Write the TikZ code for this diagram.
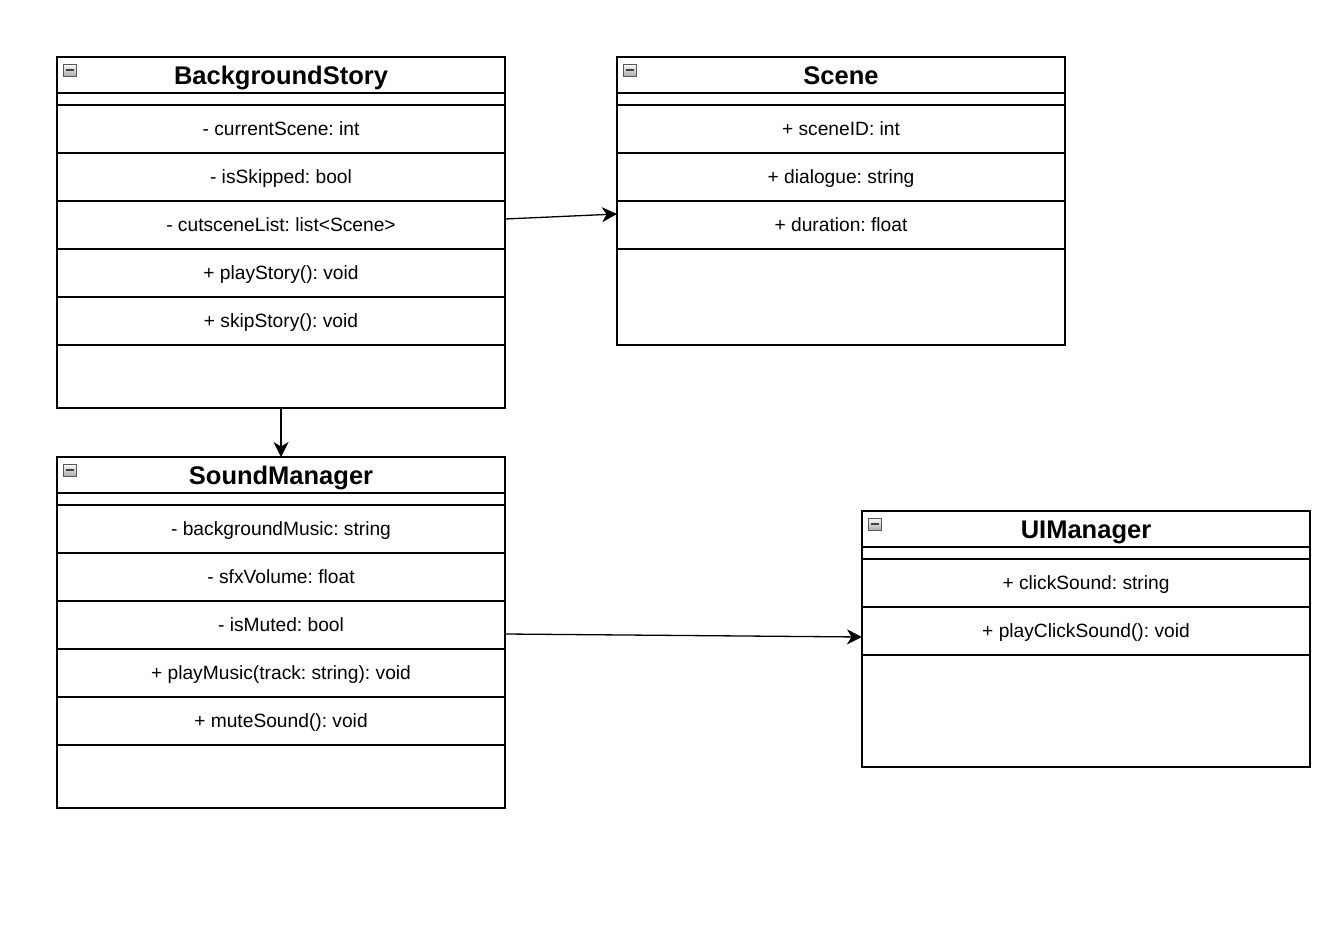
\documentclass[tikz,border=0pt]{standalone}
\usepackage{fontspec}
\setmainfont{Liberation Sans}
\usetikzlibrary{arrows.meta}
\frenchspacing

\def\rowfont{\fontsize{19.2}{23}\selectfont}
\def\titlefont{\fontsize{25.5}{30}\selectfont\bfseries}

\tikzset{
  framebox/.style={draw, line width=1.2pt, minimum width=448pt, inner sep=0pt, outer sep=0pt, anchor=north west},
  titlebox/.style={framebox, minimum height=36pt, font=\titlefont, text height=21.5pt, text depth=2.5pt},
  rowbox/.style={framebox, minimum height=48pt, font=\rowfont, text height=16pt, text depth=2.5pt},
  iconbox/.style={draw=gray!70!black, line width=0.6pt, top color=gray!5, bottom color=gray!65,
    minimum width=13pt, minimum height=12pt, inner sep=0pt, anchor=north west,
    path picture={\draw[line width=1.8pt, black!75] ([xshift=2.5pt]path picture bounding box.west) -- ([xshift=-2.5pt]path picture bounding box.east);}},
  link/.style={-{Stealth[length=15pt,width=15pt,inset=4.5pt]}, line width=1.3pt}
}

\begin{document}
\begin{tikzpicture}[x=1pt, y=-1pt]
      \useasboundingbox (0,0) rectangle (1334,947);
      % BackgroundStory
      \node[framebox, minimum height=351pt] (bs) at (57,57) {};
      \node[titlebox] (bs-t) at (57,57) {BackgroundStory};
      \node[iconbox] (bs-i) at (63,64) {};
      \node[rowbox] (bs1) at (57,105) {- currentScene: int};
      \node[rowbox] (bs2) at (57,153) {- isSkipped: bool};
      \node[rowbox] (bs3) at (57,201) {- cutsceneList: list<Scene>};
      \node[rowbox] (bs4) at (57,249) {+ playStory(): void};
      \node[rowbox] (bs5) at (57,297) {+ skipStory(): void};
      % Scene
      \node[framebox, minimum height=288pt] (sc) at (617,57) {};
      \node[titlebox] (sc-t) at (617,57) {Scene};
      \node[iconbox] (sc-i) at (623,64) {};
      \node[rowbox] (sc1) at (617,105) {+ sceneID: int};
      \node[rowbox] (sc2) at (617,153) {+ dialogue: string};
      \node[rowbox] (sc3) at (617,201) {+ duration: float};
      % SoundManager
      \node[framebox, minimum height=351pt] (sm) at (57,457) {};
      \node[titlebox] (sm-t) at (57,457) {SoundManager};
      \node[iconbox] (sm-i) at (63,464) {};
      \node[rowbox] (sm1) at (57,505) {- backgroundMusic: string};
      \node[rowbox] (sm2) at (57,553) {- sfxVolume: float};
      \node[rowbox] (sm3) at (57,601) {- isMuted: bool};
      \node[rowbox] (sm4) at (57,649) {+ playMusic(track: string): void};
      \node[rowbox] (sm5) at (57,697) {+ muteSound(): void};
      % UIManager
      \node[framebox, minimum height=256pt] (ui) at (862,511) {};
      \node[titlebox] (ui-t) at (862,511) {UIManager};
      \node[iconbox] (ui-i) at (868,518) {};
      \node[rowbox] (ui1) at (862,559) {+ clickSound: string};
      \node[rowbox] (ui2) at (862,607) {+ playClickSound(): void};
      % links
      \draw[link] ([yshift=6pt]bs3.east) -- ([yshift=11pt]sc3.west);
      \draw[link] (bs.south) -- (sm.north);
      \draw[link] ([yshift=-9pt]sm3.east) -- ([yshift=-6pt]ui2.west);
    \end{tikzpicture}
\end{document}
